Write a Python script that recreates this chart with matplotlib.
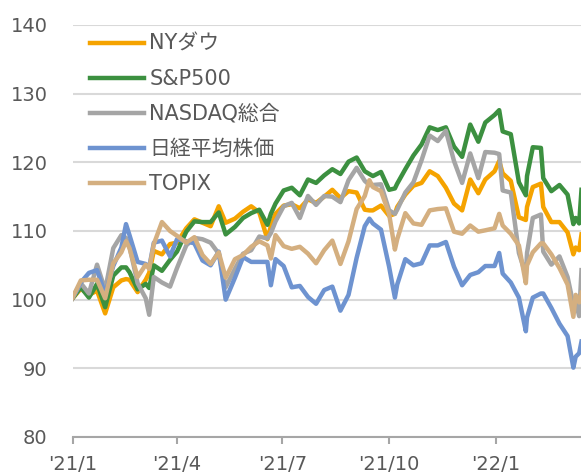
import matplotlib
matplotlib.use('Agg')
import matplotlib.pyplot as plt
import pandas as pd

plt.rcParams['font.family'] = ['DejaVu Sans', 'Noto Sans CJK JP']

dates = ['2020-12-31', '2021-01-08', '2021-01-15', '2021-01-22', '2021-01-29',
         '2021-02-05', '2021-02-12', '2021-02-16', '2021-02-19', '2021-02-26',
         '2021-03-05', '2021-03-08', '2021-03-12', '2021-03-19', '2021-03-26',
         '2021-04-01', '2021-04-09', '2021-04-16', '2021-04-23', '2021-04-30',
         '2021-05-07', '2021-05-13', '2021-05-21', '2021-05-28', '2021-06-04',
         '2021-06-11', '2021-06-18', '2021-06-21', '2021-06-25', '2021-07-02',
         '2021-07-09', '2021-07-16', '2021-07-23', '2021-07-30', '2021-08-06',
         '2021-08-13', '2021-08-20', '2021-08-27', '2021-09-03', '2021-09-10',
         '2021-09-14', '2021-09-17', '2021-09-24', '2021-10-01', '2021-10-06',
         '2021-10-08', '2021-10-15', '2021-10-22', '2021-10-29', '2021-11-05',
         '2021-11-12', '2021-11-19', '2021-11-26', '2021-12-03', '2021-12-10',
         '2021-12-17', '2021-12-23', '2021-12-31', '2022-01-04', '2022-01-07',
         '2022-01-14', '2022-01-21', '2022-01-27', '2022-01-28', '2022-02-02',
         '2022-02-09', '2022-02-11', '2022-02-18', '2022-02-25', '2022-03-04',
         '2022-03-09', '2022-03-11', '2022-03-14', '2022-03-16']

dow = [100.0, 101.6, 100.7, 101.3, 98.0, 101.8, 102.8, 103.0, 102.9, 101.1,
       102.9, 103.9, 107.1, 106.6, 108.1, 108.3, 110.4, 111.7, 111.2, 110.7,
       113.6, 111.2, 111.8, 112.8, 113.6, 112.7, 108.8, 110.7, 112.5, 113.7,
       113.9, 113.3, 114.6, 114.1, 115.0, 116.0, 114.8, 115.8, 115.6, 113.1,
       113.0, 113.0, 113.7, 112.2, 112.5, 113.5, 115.3, 116.6, 117.0, 118.7,
       118.0, 116.3, 114.0, 113.0, 117.5, 115.5, 117.5, 118.7, 120.2, 118.4,
       117.3, 112.0, 111.6, 113.5, 116.4, 116.9, 113.5, 111.3, 111.3, 109.8,
       106.6, 107.6, 107.2, 109.5]

sp500 = [100.0, 101.8, 100.3, 102.3, 98.9, 103.5, 104.7, 104.7, 104.0, 101.5,
         102.3, 101.7, 105.0, 104.2, 105.8, 107.0, 109.9, 111.4, 111.3, 111.3,
         112.7, 109.5, 110.6, 111.9, 112.6, 113.1, 110.9, 112.5, 114.0, 115.9,
         116.3, 115.2, 117.5, 117.0, 118.1, 119.0, 118.3, 120.1, 120.7, 118.7,
         118.3, 118.0, 118.6, 116.0, 116.2, 116.9, 119.0, 121.0, 122.6, 125.1,
         124.7, 125.1, 122.3, 120.8, 125.5, 123.0, 125.8, 126.9, 127.6, 124.5,
         124.1, 117.1, 115.2, 118.0, 122.2, 122.1, 117.7, 115.8, 116.7, 115.3,
         111.0, 111.9, 111.1, 116.0]

nasdaq = [100.0, 102.4, 100.9, 105.1, 101.4, 107.5, 109.4, 109.0, 107.7, 102.4,
          100.2, 97.8, 103.3, 102.5, 101.9, 104.6, 107.9, 109.0, 108.8, 108.3,
          106.7, 101.8, 104.5, 106.7, 107.2, 109.2, 108.9, 109.7, 111.4, 113.6,
          114.1, 111.9, 115.1, 113.8, 115.1, 115.0, 114.2, 117.4, 119.2, 117.3,
          116.7, 116.7, 116.8, 113.0, 112.5, 113.1, 115.6, 117.1, 120.3, 123.9,
          123.1, 124.6, 120.2, 117.0, 121.3, 117.7, 121.5, 121.4, 121.2, 115.9,
          115.6, 106.8, 103.6, 106.8, 111.9, 112.4, 107.0, 105.1, 106.3, 103.3,
          99.3, 99.7, 97.6, 104.3]

nikkei = [100.0, 102.5, 103.9, 104.3, 100.8, 104.9, 107.6, 111.0, 109.4, 105.5,
          105.2, 104.7, 108.3, 108.6, 106.3, 108.8, 108.5, 108.2, 105.7, 105.0,
          107.0, 100.0, 103.2, 106.2, 105.5, 105.5, 105.5, 102.1, 105.9, 104.9,
          101.8, 102.0, 100.4, 99.4, 101.4, 101.9, 98.4, 100.7, 106.1, 110.7,
          111.8, 111.1, 110.2, 104.8, 100.3, 102.2, 105.9, 105.0, 105.3, 107.9,
          107.9, 108.4, 104.8, 102.1, 103.6, 104.0, 104.9, 104.9, 106.8, 103.8,
          102.5, 100.3, 95.4, 97.4, 100.3, 100.9, 100.9, 98.8, 96.5, 94.7,
          90.1, 91.7, 92.2, 93.9]

topix = [100.0, 102.8, 102.9, 102.9, 100.2, 105.3, 106.9, 108.5, 107.5, 103.3,
         105.1, 104.5, 108.1, 111.3, 110.0, 109.3, 108.3, 109.1, 106.5, 105.2,
         106.9, 103.2, 105.9, 106.5, 107.7, 108.5, 107.9, 106.0, 109.4, 107.8,
         107.4, 107.7, 106.7, 105.3, 107.2, 108.6, 105.2, 108.5, 113.2, 115.1,
         117.4, 116.4, 115.8, 112.5, 107.3, 108.8, 112.6, 111.1, 110.9, 113.0,
         113.2, 113.3, 109.9, 109.6, 110.8, 109.9, 110.1, 110.4, 112.5, 110.8,
         109.6, 107.9, 102.4, 105.0, 106.9, 108.2, 108.2, 106.6, 104.6, 102.2,
         97.5, 100.7, 99.6, 101.0]

names = ['NYダウ', 'S&P500', 'NASDAQ総合', '日経平均株価', 'TOPIX']
colors = ['#F5A300', '#3C9040', '#A5A5A5', '#6E93D0', '#D4AF80']
tick_dates = ['2021-01-01', '2021-04-01', '2021-07-01', '2021-10-01', '2022-01-01']
tick_labels = ["'21/1", "'21/4", "'21/7", "'21/10", "'22/1"]

x = pd.to_datetime(dates)
txt = '#595959'

fig = plt.figure(figsize=(5.81, 4.75), dpi=100)
ax = fig.add_axes([72.7 / 581, 38 / 475, (581 - 72.7) / 581, 412 / 475])

for vals, name, c in zip([dow, sp500, nasdaq, nikkei, topix], names, colors):
    ax.plot(x, vals, color=c, lw=3.2, label=name, solid_joinstyle='round')

ax.set_ylim(80, 140)
ax.set_yticks(range(80, 141, 10))
ax.set_xlim(pd.Timestamp('2021-01-01'), pd.Timestamp('2022-03-15 14:00'))
ax.set_xticks(pd.to_datetime(tick_dates))
ax.set_xticklabels(tick_labels)

ax.grid(axis='y', color='#D9D9D9', lw=1.5)
ax.set_axisbelow(True)
for s in ['top', 'right', 'left']:
    ax.spines[s].set_visible(False)
ax.spines['bottom'].set_color('#A6A6A6')
ax.spines['bottom'].set_linewidth(1.5)
ax.tick_params(axis='y', length=0, pad=18, labelsize=14, labelcolor=txt)
ax.tick_params(axis='x', length=5, width=1.5, color='#A6A6A6', pad=8,
               labelsize=14, labelcolor=txt)

leg = ax.legend(loc='upper left', bbox_to_anchor=(90 / 581, 441 / 475),
                bbox_transform=fig.transFigure, frameon=False, fontsize=15,
                handlelength=2.6, handletextpad=0.25, labelspacing=0.72,
                borderpad=0, borderaxespad=0)
for t in leg.get_texts():
    t.set_color(txt)

fig.savefig('out.png', dpi=100)
